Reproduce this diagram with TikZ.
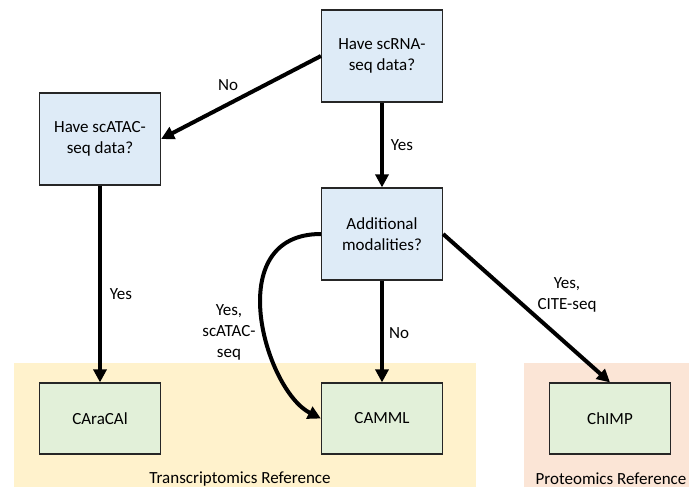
\documentclass[tikz,border=0pt]{standalone}
\usepackage{fontspec}
\setmainfont{Carlito}
\usetikzlibrary{positioning, arrows.meta}

\definecolor{qblue}{HTML}{DEEBF7}
\definecolor{tgreen}{HTML}{E2F0D9}
\definecolor{transbg}{HTML}{FFF2CC}
\definecolor{protbg}{HTML}{FBE5D6}

\begin{document}
\begin{tikzpicture}[x=1pt, y=-1pt, font=\fontsize{17}{21}\selectfont,
    question/.style={draw=black!85, line width=1.2pt, fill=qblue, minimum width=121pt, minimum height=92pt, align=center, inner sep=0pt},
    tool/.style={draw=black!85, line width=1.2pt, fill=tgreen, minimum width=121pt, minimum height=71pt, inner sep=0pt},
    flow/.style={line width=4pt, -{Triangle[length=13pt,width=13pt]}},
    lbl/.style={align=center, inner sep=0pt}]
    \useasboundingbox (0,0) rectangle (689,496);

    % Reference regions
    \fill[transbg] (14,363) rectangle (476,487);
    \fill[protbg] (524,363) rectangle (689,487);
    \node[lbl] (transref) at (240,479) {Transcriptomics Reference};
    \node[lbl] (protref) at (611,479) {Proteomics Reference};

    % Questions
    \node[question] (scrna) at (382,56) {Have scRNA-\\seq data?};
    \node[question] (scatac) at (100,139) {Have scATAC-\\seq data?};
    \node[question] (addmod) at (382,234) {Additional\\modalities?};

    % Tools
    \foreach \name/\x/\txt in {caracal/100/CAraCAl, camml/382/CAMML, chimp/610/ChIMP} {
      \node[tool] (\name) at (\x,418.5) {\txt};
    }

    % Decisions
    \draw[flow] (scrna.west) -- (scatac.east);
    \draw[flow] (scrna.south) -- (addmod.north);
    \draw[flow] (scatac.south) -- (caracal.north);
    \draw[flow] (addmod.south) -- (camml.north);
    \draw[flow] (addmod.east) -- (chimp.north);
    \draw[flow] (addmod.west) .. controls (220,234) and (265,390) .. (camml.west);

    % Answers
    \node[lbl] (ansno) at (228,85) {No};
    \node[lbl] (ansyes) at (402,145) {Yes};
    \node[lbl] (ansyesatac) at (121,294) {Yes};
    \node[lbl] (ansnomod) at (399,333) {No};
    \node[lbl] (anscite) at (567,295) {Yes,\\CITE-seq};
    \node[lbl] (ansmulti) at (229,332) {Yes,\\scATAC-\\seq};

  \end{tikzpicture}
\end{document}
